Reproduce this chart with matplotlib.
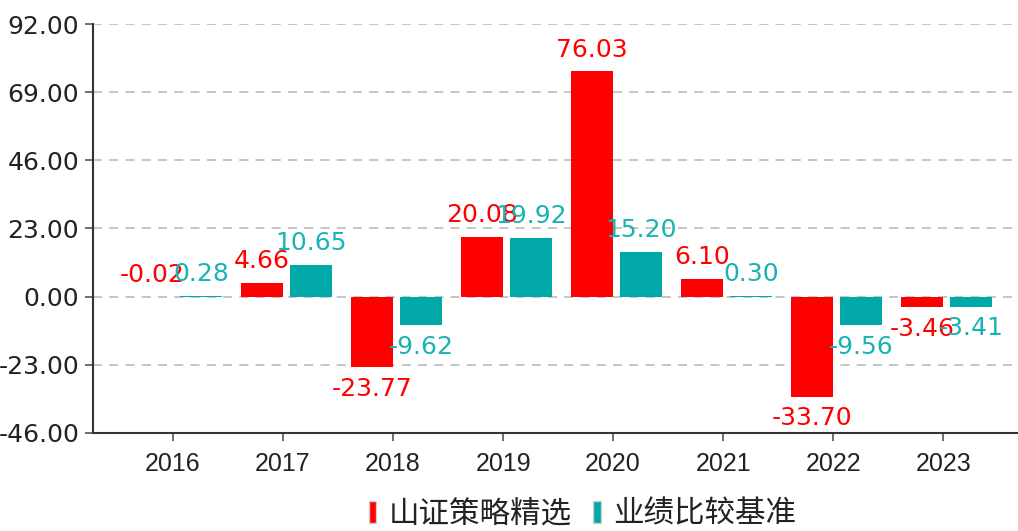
import numpy as np
import matplotlib
matplotlib.use("Agg")
import matplotlib.pyplot as plt
from matplotlib.patches import Patch

# Datos
years = ['2016', '2017', '2018', '2019', '2020', '2021', '2022', '2023']
fondo = [-0.02, 4.66, -23.77, 20.08, 76.03, 6.10, -33.70, -3.46]
bench = [0.28, 10.65, -9.62, 19.92, 15.20, 0.30, -9.56, -3.41]
yticks = [-46, -23, 0, 23, 46, 69, 92]
names = ['山证策略精选', '业绩比较基准']

red = '#ff0000'
teal = '#00a8a8'
teal_txt = '#1ab3b3'

fig = plt.figure(figsize=(10.18, 5.31), dpi=100)
ax = fig.add_axes([0.0914, 0.1846, 0.9086, 0.7702])

x = np.arange(len(years))
w = 0.385
b1 = ax.bar(x - 0.19, fondo, w, color=red, zorder=3)
b2 = ax.bar(x + 0.255, bench, w, color=teal, zorder=3)

# etiquetas de valores (las casi nulas van encima)
for bars, vals, col in [(b1, fondo, red), (b2, bench, teal_txt)]:
    for r, v in zip(bars, vals):
        cx = r.get_x() + r.get_width() / 2
        if v >= 0 or abs(v) < 1:
            ax.annotate(f'{v:.2f}', (cx, max(v, 0)), xytext=(0, 7), textcoords='offset points',
                        ha='center', va='bottom', color=col, fontsize=18,
                        family='DejaVu Sans', zorder=5)
        else:
            ax.annotate(f'{v:.2f}', (cx, v), xytext=(0, -7), textcoords='offset points',
                        ha='center', va='top', color=col, fontsize=18,
                        family='DejaVu Sans', zorder=5)

ax.set_xlim(-0.727, 7.68)
ax.set_ylim(-46, 92)
ax.set_yticks(yticks)
ax.set_yticklabels([f'{t:.2f}' for t in yticks])
ax.set_xticks(x)
ax.set_xticklabels(years)

for t in yticks[1:]:
    ax.axhline(t, color='#c0c0c0', lw=1.3, ls=(0, (5, 4)), zorder=1)

for s in ['top', 'right']:
    ax.spines[s].set_visible(False)
for s in ['left', 'bottom']:
    ax.spines[s].set_color('#333333')
    ax.spines[s].set_linewidth(1.5)

ax.tick_params(axis='both', direction='out', length=6, width=1.2, color='#555555',
               labelsize=18, labelcolor='#222222', pad=4)
for lab in ax.get_yticklabels():
    lab.set_family('DejaVu Sans')
for lab in ax.get_xticklabels():
    lab.set_family('Liberation Sans')
ax.tick_params(axis='x', pad=8)

handles = [Patch(facecolor=red, edgecolor='#d0d0d0', lw=1.0),
           Patch(facecolor=teal, edgecolor='#d0d0d0', lw=1.0)]
fig.legend(handles, names, loc='center', bbox_to_anchor=(0.572, 0.032), ncol=2,
           frameon=False, prop={'family': 'Noto Sans CJK SC', 'size': 22},
           handlelength=0.25, handleheight=0.7, handletextpad=0.4,
           columnspacing=0.7, borderpad=0, labelcolor='#222222')

fig.savefig('out.png', dpi=100)
